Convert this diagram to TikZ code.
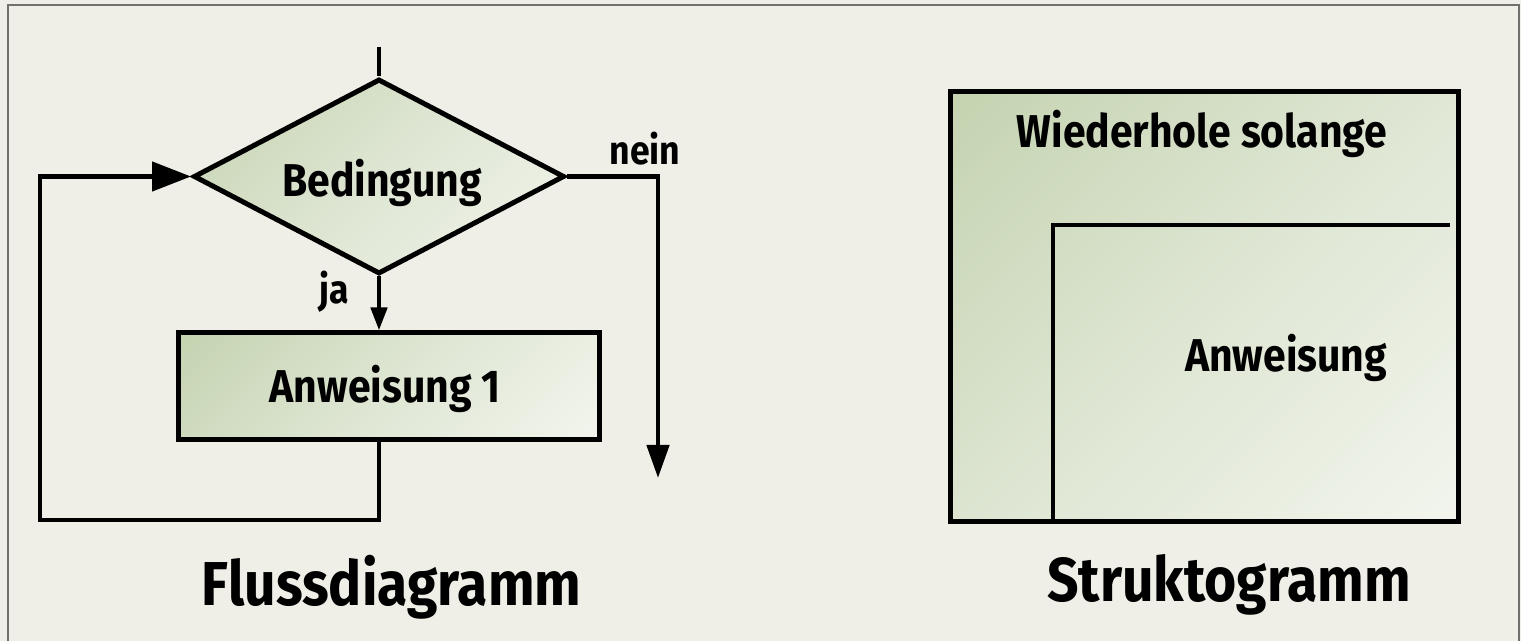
\documentclass[tikz,border=0pt]{standalone}
\usepackage{fontspec}
\setmainfont{Fira Sans}[FakeStretch=0.89]
\usetikzlibrary{shapes.geometric,arrows.meta}
\definecolor{bg}{RGB}{239,239,231}
\definecolor{frame}{RGB}{112,112,108}
\definecolor{gstart}{RGB}{186,203,162}
\definecolor{gmid}{RGB}{222,230,211}
\definecolor{gend}{RGB}{251,251,248}
\pgfdeclareverticalshading{diagramp}{100bp}{color(0bp)=(gend); color(50bp)=(gmid); color(100bp)=(gstart)}
\begin{document}
\begin{tikzpicture}[x=0.5pt,y=-0.5pt,
  grad/.style={shade, shading=diagramp, shading angle=45},
  decision/.style={diamond, draw, line width=2.5pt, grad, inner sep=0pt,
     minimum width=185.5pt, minimum height=97.5pt},
  procbox/.style={rectangle, draw, line width=2.5pt, grad, inner sep=0pt,
     minimum width=210.5pt, minimum height=53.5pt},
  conn/.style={line width=2.3pt},
  lbl/.style={font=\bfseries\fontsize{23}{26}\selectfont, anchor=base, inner sep=0pt},
  small/.style={font=\bfseries\fontsize{20}{23}\selectfont, anchor=base, inner sep=0pt},
  title/.style={font=\bfseries\fontsize{31}{35}\selectfont, anchor=base, inner sep=0pt}]
\useasboundingbox (0,0) rectangle (1521,641);
\fill[bg] (0,0) rectangle (1521,641);
\draw[frame, line width=1.2pt] (8,641) -- (8,5) -- (1519,5) -- (1519,641);

% Flussdiagramm
\node[decision] (cond) at (379,176.5) {};
\node[lbl] (condtxt) at (382,197) {Bedingung};
\node[procbox] (act) at (388.5,386.5) {};
\node[lbl] (acttxt) at (385,403) {Anweisung 1};
\coordinate (start) at (379,47);
\coordinate (lb) at (379,520);
\coordinate (ll) at (40,520);
\coordinate (lt) at (40,176.5);
\coordinate (nr) at (658,176.5);
\coordinate (nend) at (658,478);
\draw[conn] (start) -- (cond.north);
\draw[conn, -{Triangle[length=11.5pt,width=8pt]}] (cond.south) -- (cond.south |- act.north);
\draw[conn, line cap=butt] (lb |- act.south) -- (lb) -- (ll) -- (lt)
   [-{Triangle[length=19.5pt,width=14.5pt]}] -- (cond.west);
\draw[conn, -{Triangle[length=16.5pt,width=11pt]}] (cond.east) -- (nr) -- (nend);
\node[small] (ja) at (334,304) {ja};
\node[small] (nein) at (645,165) {nein};
\node[title] (t1) at (391.5,605) {Flussdiagramm};

% Struktogramm
\node[rectangle, draw, line width=2.5pt, grad, inner sep=0pt,
      minimum width=254pt, minimum height=215pt] (sg) at (1204,307) {};
\coordinate (ib) at (1053,520.5);
\coordinate (ic) at (1053,225);
\coordinate (ir) at (1450,225);
\draw[conn, line width=2pt] (ib) -- (ic) -- (ir);
\node[lbl] (wh) at (1202,148) {Wiederhole solange};
\node[lbl] (anw) at (1286,372) {Anweisung};
\node[title] (t2) at (1229,601) {Struktogramm};
\end{tikzpicture}
\end{document}
